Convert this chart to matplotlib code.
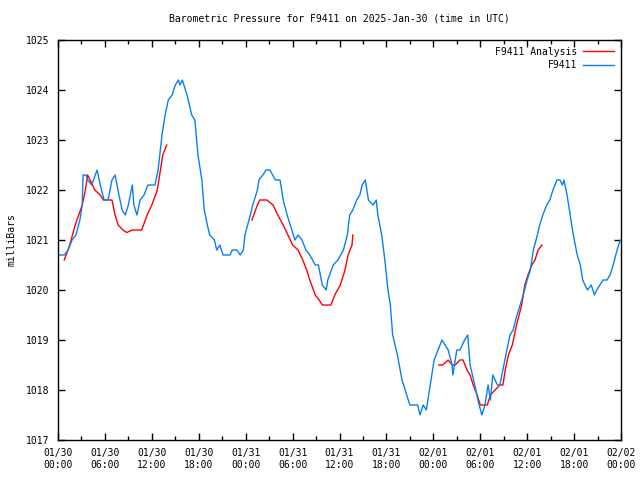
import numpy as np
import pandas as pd
import matplotlib
matplotlib.use("Agg")
import matplotlib.pyplot as plt
import matplotlib.dates as mdates
from matplotlib.ticker import MultipleLocator

# start of the plotted period (UTC)
START = pd.Timestamp("2025-01-30 00:00")

# observed pressure, hours after START
obs_hours = [
    0.0, 0.8, 1.3, 1.8, 2.3, 2.8, 3.1, 3.2, 3.6, 3.8, 4.3, 5.0, 5.4, 5.9, 6.4, 6.9,
    7.3, 7.8, 8.2, 8.6, 9.0, 9.5, 9.7, 10.1, 10.5, 11.0, 11.5, 12.4, 12.8, 13.3, 13.7,
    14.1, 14.6, 15.0, 15.4, 15.6, 15.9, 16.5, 17.1, 17.5, 17.9, 18.4, 18.7, 19.1,
    19.4, 20.0, 20.3, 20.7, 21.1, 22.0, 22.3, 22.9, 23.3, 23.7, 23.9, 24.6, 24.9,
    25.5, 25.7, 26.2, 26.6, 27.1, 27.8, 28.4, 28.8, 29.3, 29.9, 30.3, 30.7, 31.2,
    31.7, 32.2, 32.9, 33.3, 33.8, 34.3, 34.5, 35.2, 35.8, 36.5, 37.0, 37.3, 37.7,
    38.2, 38.6, 38.9, 39.3, 39.7, 40.3, 40.7, 40.9, 41.4, 41.8, 42.2, 42.5, 42.8,
    43.4, 44.0, 44.6, 45.0, 46.0, 46.3, 46.7, 47.1, 47.3, 47.8, 48.1, 48.6, 49.1,
    49.5, 49.9, 50.4, 50.5, 51.0, 51.4, 52.0, 52.4, 52.7, 53.0, 53.3, 53.7, 54.2,
    54.6, 55.0, 55.3, 55.6, 56.2, 56.5, 56.9, 57.4, 57.8, 58.2, 58.7, 59.1, 59.5,
    60.0, 60.4, 60.8, 61.3, 61.6, 62.0, 62.5, 62.9, 63.3, 63.8, 64.2, 64.5, 64.7,
    65.1, 65.5, 65.9, 66.4, 66.8, 67.1, 67.7, 68.2, 68.6, 68.9, 69.3, 69.7, 70.2,
    70.6, 71.0, 71.5, 71.9, 72.0,
]
obs_mb = [
    1020.7, 1020.7, 1020.8, 1021.0, 1021.1, 1021.4, 1021.7, 1022.3, 1022.3, 1022.2,
    1022.1, 1022.4, 1022.1, 1021.8, 1021.8, 1022.2, 1022.3, 1021.9, 1021.6, 1021.5,
    1021.7, 1022.1, 1021.7, 1021.5, 1021.8, 1021.9, 1022.1, 1022.1, 1022.4, 1023.1,
    1023.5, 1023.8, 1023.9, 1024.1, 1024.2, 1024.1, 1024.2, 1023.9, 1023.5, 1023.4,
    1022.7, 1022.2, 1021.6, 1021.3, 1021.1, 1021.0, 1020.8, 1020.9, 1020.7, 1020.7,
    1020.8, 1020.8, 1020.7, 1020.8, 1021.1, 1021.5, 1021.7, 1022.0, 1022.2, 1022.3,
    1022.4, 1022.4, 1022.2, 1022.2, 1021.8, 1021.5, 1021.2, 1021.0, 1021.1, 1021.0,
    1020.8, 1020.7, 1020.5, 1020.5, 1020.1, 1020.0, 1020.2, 1020.5, 1020.6, 1020.8,
    1021.1, 1021.5, 1021.6, 1021.8, 1021.9, 1022.1, 1022.2, 1021.8, 1021.7, 1021.8,
    1021.5, 1021.1, 1020.6, 1020.0, 1019.7, 1019.1, 1018.7, 1018.2, 1017.9, 1017.7,
    1017.7, 1017.5, 1017.7, 1017.6, 1017.8, 1018.3, 1018.6, 1018.8, 1019.0, 1018.9,
    1018.8, 1018.5, 1018.3, 1018.8, 1018.8, 1019.0, 1019.1, 1018.5, 1018.3, 1018.1,
    1017.8, 1017.5, 1017.7, 1018.1, 1017.8, 1018.3, 1018.1, 1018.1, 1018.4, 1018.8,
    1019.1, 1019.2, 1019.5, 1019.7, 1019.9, 1020.2, 1020.4, 1020.8, 1021.1, 1021.3,
    1021.5, 1021.7, 1021.8, 1022.0, 1022.2, 1022.2, 1022.1, 1022.2, 1021.9, 1021.5,
    1021.1, 1020.7, 1020.5, 1020.2, 1020.0, 1020.1, 1019.9, 1020.0, 1020.1, 1020.2,
    1020.2, 1020.3, 1020.5, 1020.8, 1021.0, 1021.0,
]

# analysis runs (three separate segments)
ana_hours_1 = [0.8, 1.5, 2.2, 3.1, 3.5, 3.8, 4.1, 4.7, 5.4, 5.8, 6.4, 6.9, 7.3, 7.7,
               8.3, 8.8, 9.5, 10.1, 10.7, 11.4, 12.0, 12.7, 13.0, 13.4, 13.9]
ana_mb_1 = [1020.6, 1020.9, 1021.3, 1021.7, 1022.0, 1022.3, 1022.2, 1022.0, 1021.9,
            1021.8, 1021.8, 1021.8, 1021.5, 1021.3, 1021.2, 1021.15, 1021.2, 1021.2,
            1021.2, 1021.5, 1021.7, 1022.0, 1022.3, 1022.7, 1022.9]
ana_hours_2 = [24.8, 25.5, 25.8, 26.7, 27.5, 28.1, 28.8, 29.4, 30.0, 30.7, 31.3, 31.8,
               32.2, 32.9, 33.4, 33.8, 34.4, 34.9, 35.4, 36.1, 36.7, 37.1, 37.6, 37.7]
ana_mb_2 = [1021.4, 1021.7, 1021.8, 1021.8, 1021.7, 1021.5, 1021.3, 1021.1, 1020.9,
            1020.8, 1020.6, 1020.4, 1020.2, 1019.9, 1019.8, 1019.7, 1019.7, 1019.7,
            1019.9, 1020.1, 1020.4, 1020.7, 1020.9, 1021.1]
ana_hours_3 = [48.7, 49.2, 49.9, 50.4, 50.8, 51.4, 51.8, 52.3, 52.7, 53.1, 53.6, 54.0,
               54.5, 54.9, 55.3, 55.9, 56.5, 56.9, 57.2, 57.6, 58.1, 58.5, 58.8, 59.3,
               59.7, 60.1, 60.6, 61.0, 61.4, 61.9]
ana_mb_3 = [1018.5, 1018.5, 1018.6, 1018.5, 1018.5, 1018.6, 1018.6, 1018.4, 1018.3,
            1018.1, 1017.9, 1017.7, 1017.7, 1017.7, 1017.9, 1018.0, 1018.1, 1018.1,
            1018.4, 1018.7, 1018.9, 1019.2, 1019.4, 1019.7, 1020.1, 1020.3, 1020.5,
            1020.6, 1020.8, 1020.9]


def to_time(hours):
    return START + pd.to_timedelta(hours, unit="h")


FONT = "DejaVu Sans Mono"
plt.rcParams["font.family"] = FONT
plt.rcParams["font.size"] = 7

fig = plt.figure(figsize=(6.4, 4.8), dpi=100)
ax = fig.add_axes([58 / 640, 40 / 480, 563 / 640, 400 / 480])

# analysis segments (label only the first one)
segments = [(ana_hours_1, ana_mb_1), (ana_hours_2, ana_mb_2), (ana_hours_3, ana_mb_3)]
for i, (hh, vv) in enumerate(segments):
    ax.plot(to_time(hh), vv, color="#ff0000", linewidth=1.0,
            label="F9411 Analysis" if i == 0 else None)

ax.plot(to_time(obs_hours), obs_mb, color="#0a80f0", linewidth=1.0, label="F9411")

ax.set_xlim(START, START + pd.Timedelta(hours=72))
ax.set_ylim(1017, 1025)

ax.xaxis.set_major_locator(mdates.HourLocator(byhour=[0, 6, 12, 18]))
ax.xaxis.set_minor_locator(mdates.HourLocator(byhour=[3, 9, 15, 21]))
ax.xaxis.set_major_formatter(mdates.DateFormatter("%m/%d\n%H:%M"))
ax.yaxis.set_major_locator(MultipleLocator(1))
ax.yaxis.set_major_formatter(plt.FuncFormatter(lambda v, _: f"{v:.0f}"))

ax.tick_params(which="both", direction="in", top=True, right=True, width=1,
               colors="black", labelsize=7)
ax.tick_params(which="major", length=5, pad=6)
ax.tick_params(which="minor", length=3)
for sp in ax.spines.values():
    sp.set_linewidth(1)

ax.set_title("Barometric Pressure for F9411 on 2025-Jan-30 (time in UTC)",
             fontsize=7, pad=13)
ax.set_ylabel("milliBars", fontsize=7, va="center")
ax.yaxis.set_label_coords(-0.083, 0.5)

leg = ax.legend(loc="upper right", frameon=False, markerfirst=False,
                handlelength=3.2, fontsize=7, borderaxespad=0.3,
                labelspacing=0.35, handletextpad=0.6)
for t in leg.get_texts():
    t.set_ha("right")

fig.savefig("out.png", dpi=100)
